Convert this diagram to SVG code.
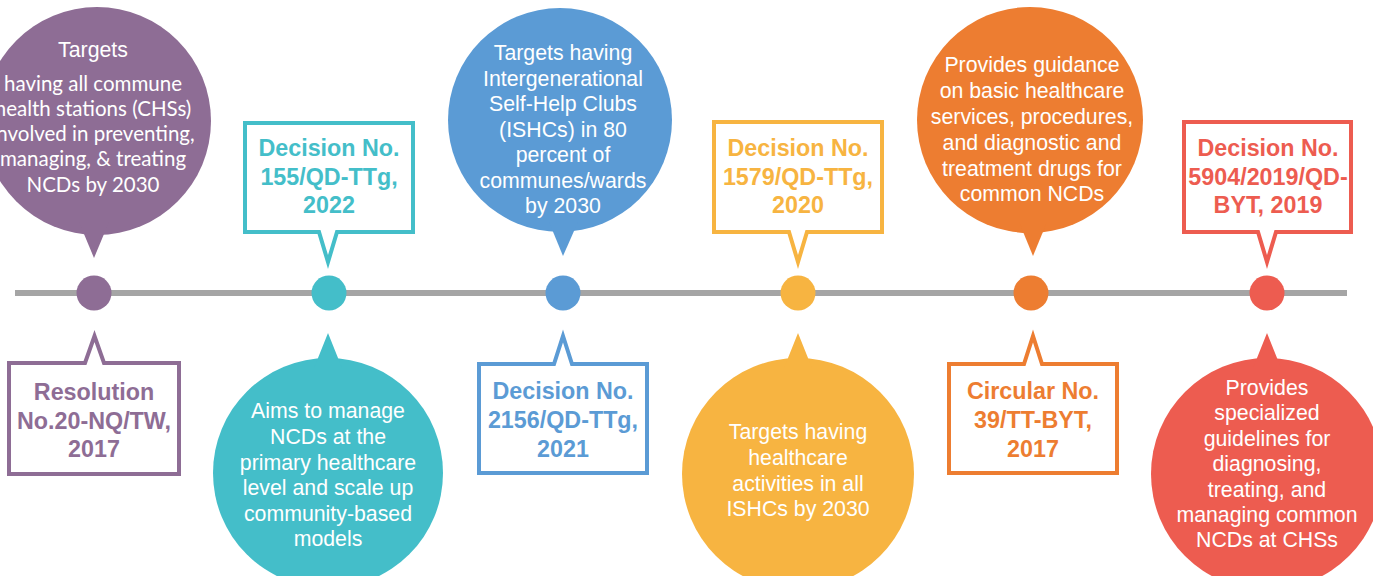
<svg xmlns="http://www.w3.org/2000/svg" width="1373" height="576" viewBox="0 0 1373 576">
<style>
.ct{font-family:"Liberation Sans",Arial,sans-serif;font-size:21.3px;fill:#fff;text-anchor:middle}
.cal{font-family:Lato,"Open Sans",sans-serif;font-size:20.5px;fill:#fff;text-anchor:middle}
.bt{font-family:"Liberation Sans",Arial,sans-serif;font-size:23.3px;font-weight:bold;text-anchor:middle}
.box{fill:#fff;stroke-width:4;stroke-linejoin:miter}
</style>
<rect width="1373" height="576" fill="#fff"/>
<g id="connectors">
<line x1="15" y1="293" x2="1347" y2="293" stroke="#a5a5a5" stroke-width="6"/>
</g>
<g id="dots">
<circle cx="94" cy="293" r="17.5" fill="#8e6d95"/>
<circle cx="329" cy="293" r="17.5" fill="#44bec9"/>
<circle cx="563" cy="293" r="17.5" fill="#5b9bd5"/>
<circle cx="798" cy="293" r="17.5" fill="#f7b441"/>
<circle cx="1031" cy="293" r="17.5" fill="#ed7d31"/>
<circle cx="1267" cy="293" r="17.5" fill="#ed5c50"/>
</g>
<g id="node-purple-circle">
<circle cx="97" cy="121" r="114" fill="#8e6d95"/>
<polygon points="79,222 109,222 94,258" fill="#8e6d95"/>
<text class="ct" x="93" y="57" font-size="20.5">Targets</text>
<text class="cal"><tspan x="93" y="91">having all commune</tspan><tspan x="93" y="116">health stations (CHSs)</tspan><tspan x="93" y="141">involved in preventing,</tspan><tspan x="93" y="166">managing, &amp; treating</tspan><tspan x="93" y="192">NCDs by 2030</tspan></text>
</g>
<g id="node-purple-box">
<path class="box" stroke="#8e6d95" d="M9,363 H85 L94.5,336 L104,363 H179 V474 H9 Z"/>
<text class="bt" fill="#8e6d95"><tspan x="94" y="400">Resolution</tspan><tspan x="94" y="428.5">No.20-NQ/TW,</tspan><tspan x="94" y="457">2017</tspan></text>
</g>
<g id="node-teal-box">
<path class="box" stroke="#44bec9" d="M245,123 H413 V232 H337 L328,262 L319,232 H245 Z"/>
<text class="bt" fill="#44bec9"><tspan x="329" y="156">Decision No.</tspan><tspan x="329" y="184.5">155/QD-TTg,</tspan><tspan x="329" y="213">2022</tspan></text>
</g>
<g id="node-teal-circle">
<circle cx="328" cy="473" r="115" fill="#44bec9"/>
<polygon points="314,368 342,368 328,333" fill="#44bec9"/>
<text class="ct"><tspan x="328" y="418">Aims to manage</tspan><tspan x="328" y="444">NCDs at the</tspan><tspan x="328" y="470">primary healthcare</tspan><tspan x="328" y="495">level and scale up</tspan><tspan x="328" y="521">community-based</tspan><tspan x="328" y="546">models</tspan></text>
</g>
<g id="node-blue-circle">
<circle cx="560" cy="120" r="112" fill="#5b9bd5"/>
<polygon points="549,222 578,222 563,256" fill="#5b9bd5"/>
<text class="ct"><tspan x="563" y="60">Targets having</tspan><tspan x="563" y="85.5">Intergenerational</tspan><tspan x="563" y="111">Self-Help Clubs</tspan><tspan x="563" y="137">(ISHCs) in 80</tspan><tspan x="563" y="162">percent of</tspan><tspan x="563" y="188">communes/wards</tspan><tspan x="563" y="213">by 2030</tspan></text>
</g>
<g id="node-blue-box">
<path class="box" stroke="#5b9bd5" d="M479,364 H554 L563,336 L572,364 H647 V473 H479 Z"/>
<text class="bt" fill="#5b9bd5"><tspan x="563" y="399">Decision No.</tspan><tspan x="563" y="428">2156/QD-TTg,</tspan><tspan x="563" y="457">2021</tspan></text>
</g>
<g id="node-yellow-box">
<path class="box" stroke="#f7b441" d="M714,122 H882 V232 H807 L798,262 L789,232 H714 Z"/>
<text class="bt" fill="#f7b441"><tspan x="798" y="156">Decision No.</tspan><tspan x="798" y="184.5">1579/QD-TTg,</tspan><tspan x="798" y="213">2020</tspan></text>
</g>
<g id="node-yellow-circle">
<circle cx="798" cy="474" r="116" fill="#f7b441"/>
<polygon points="784,368 812,368 798,333" fill="#f7b441"/>
<text class="ct"><tspan x="798" y="439">Targets having</tspan><tspan x="798" y="465">healthcare</tspan><tspan x="798" y="491">activities in all</tspan><tspan x="798" y="516">ISHCs by 2030</tspan></text>
</g>
<g id="node-orange-circle">
<circle cx="1030" cy="120" r="113" fill="#ed7d31"/>
<polygon points="1019,222 1047,222 1033,256" fill="#ed7d31"/>
<text class="ct"><tspan x="1032" y="72">Provides guidance</tspan><tspan x="1032" y="98">on basic healthcare</tspan><tspan x="1032" y="124">services, procedures,</tspan><tspan x="1032" y="150">and diagnostic and</tspan><tspan x="1032" y="176">treatment drugs for</tspan><tspan x="1032" y="201">common NCDs</tspan></text>
</g>
<g id="node-orange-box">
<path class="box" stroke="#ed7d31" d="M949,364 H1024 L1033,336 L1042,364 H1117 V473 H949 Z"/>
<text class="bt" fill="#ed7d31"><tspan x="1033" y="399">Circular No.</tspan><tspan x="1033" y="428">39/TT-BYT,</tspan><tspan x="1033" y="457">2017</tspan></text>
</g>
<g id="node-red-box">
<path class="box" stroke="#ed5c50" d="M1184,122 H1351 V232 H1276 L1267,262 L1258,232 H1184 Z"/>
<text class="bt" fill="#ed5c50"><tspan x="1268" y="156">Decision No.</tspan><tspan x="1268" y="184.5">5904/2019/QD-</tspan><tspan x="1268" y="213">BYT, 2019</tspan></text>
</g>
<g id="node-red-circle">
<circle cx="1267" cy="474" r="116" fill="#ed5c50"/>
<polygon points="1253,368 1281,368 1267,333" fill="#ed5c50"/>
<text class="ct"><tspan x="1267" y="395">Provides</tspan><tspan x="1267" y="420">specialized</tspan><tspan x="1267" y="446">guidelines for</tspan><tspan x="1267" y="471">diagnosing,</tspan><tspan x="1267" y="497">treating, and</tspan><tspan x="1267" y="522">managing common</tspan><tspan x="1267" y="547">NCDs at CHSs</tspan></text>
</g>
</svg>
